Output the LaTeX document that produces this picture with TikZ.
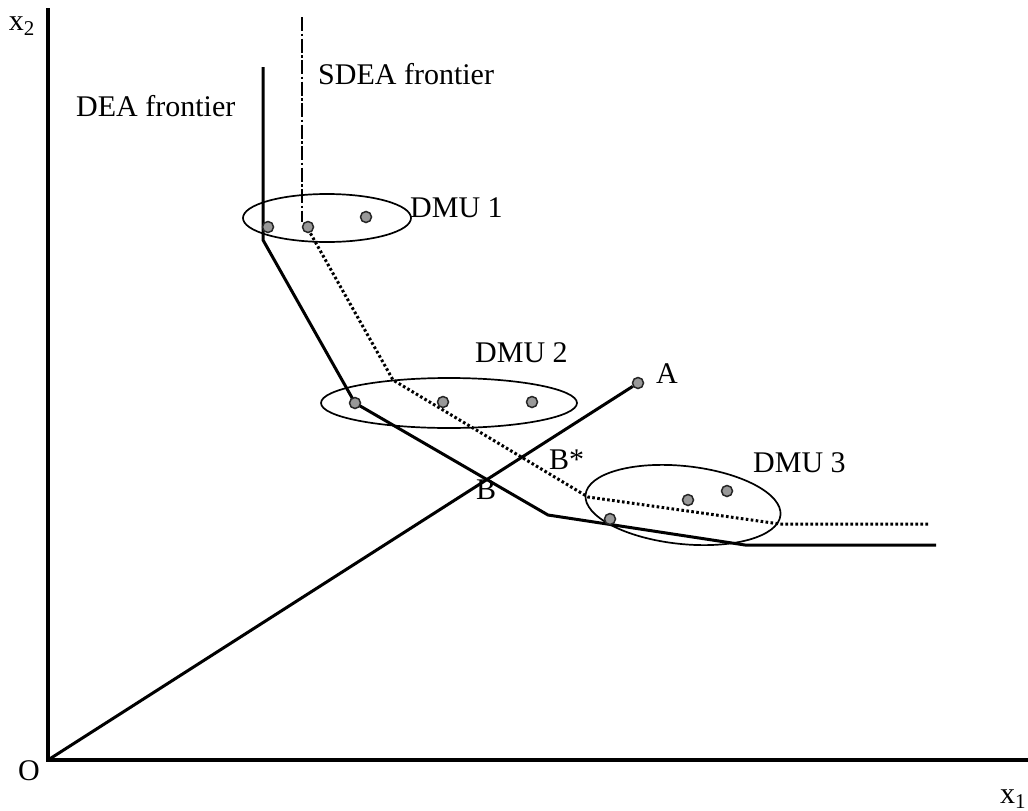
\documentclass[tikz,border=0pt]{standalone}
\usepackage{fontspec}
\setmainfont{Liberation Serif}
\begin{document}
\begin{tikzpicture}[x=1pt,y=-1pt,
  axis/.style={line width=3.4pt},
  dea/.style={line width=3pt, line join=miter},
  sdea/.style={line width=3pt, dash pattern=on 2.6pt off 2.4pt},
  sdeavert/.style={line width=2.4pt, dash pattern=on 14pt off 2.5pt on 2.5pt off 2.5pt},
  group/.style={line width=1.7pt},
  obs/.style={circle, draw=black!85, fill=black!40, line width=1.5pt, minimum size=11pt, inner sep=0pt},
  lbl/.style={font=\fontsize{30}{36}\selectfont, inner sep=0pt}
]
\useasboundingbox (0,0) rectangle (1028,811);

% axes
\coordinate (O) at (48,760);
\coordinate (ytop) at (48,8);
\coordinate (xend) at (1028,760);
\draw[axis] (ytop) -- (O) -- (xend);
\node[lbl, anchor=base] (x2) at (22,30) {x\textsubscript{2}};
\node[lbl, anchor=base] (x1) at (1013,803) {x\textsubscript{1}};
\node[lbl, anchor=base] (olbl) at (29,780) {O};

% DEA frontier
\coordinate (d0) at (263,67);
\coordinate (d1) at (263,240);
\coordinate (d2) at (355,403);
\coordinate (d3) at (548,515);
\coordinate (d4) at (745,545);
\coordinate (d5) at (936,545);
\draw[dea] (d0) -- (d1) -- (d2) -- (d3) -- (d4) -- (d5);

% SDEA frontier
\coordinate (s0) at (302,17);
\coordinate (s1) at (302,222);
\coordinate (s2) at (308,229);
\coordinate (s3) at (393,380);
\coordinate (s4) at (588,497);
\coordinate (s5) at (780,524);
\coordinate (s6) at (930,524);
\draw[sdeavert] (s0) -- (s1);
\draw[sdea] (s2) -- (s3) -- (s4) -- (s5) -- (s6);

\node[lbl, anchor=base west] (dealbl) at (76,116) {DEA frontier};
\node[lbl, anchor=base west] (sdealbl) at (318,84) {SDEA frontier};

% DMU groups
\draw[group] (327,218) ellipse [x radius=84, y radius=24];
\draw[group] (449,403) ellipse [x radius=128, y radius=25];
\draw[group, rotate around={-6:(683,505)}] (683,505) ellipse [x radius=98, y radius=39];

\node[lbl, anchor=base west] (dmu1) at (410,217) {DMU 1};
\node[lbl, anchor=base west] (dmu2) at (475,362) {DMU 2};
\node[lbl, anchor=base west] (dmu3) at (753,472) {DMU 3};

% ray through B and B*
\node[obs] (A) at (638,383) {};
\draw[dea] (O) -- (A);
\node[lbl, anchor=base west] (alb) at (656,383) {A};
\node[lbl, anchor=base west] (blb) at (476,499) {B};
\node[lbl, anchor=base west] (bslb) at (549,469) {B*};

% observations
\node[obs] (p11) at (268,227) {};
\node[obs] (p12) at (308,227) {};
\node[obs] (p13) at (366,217) {};
\node[obs] (p21) at (355,403) {};
\node[obs] (p22) at (443,402) {};
\node[obs] (p23) at (532,402) {};
\node[obs] (p31) at (610,519) {};
\node[obs] (p32) at (688,500) {};
\node[obs] (p33) at (727,491) {};
\end{tikzpicture}
\end{document}
